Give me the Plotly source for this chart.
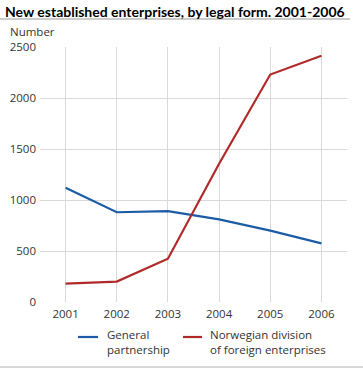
import plotly.graph_objects as go

years = [2001, 2002, 2003, 2004, 2005, 2006]
general_partnership = [1120, 880, 890, 810, 700, 575]
norwegian_division = [180, 200, 425, 1355, 2230, 2415]
y_ticks = [0, 500, 1000, 1500, 2000, 2500]
series_names = ["General<br>partnership", "Norwegian division<br>of foreign enterprises"]
series_colors = ["#1c5ba6", "#b02a2a"]

FONT = "Open Sans"
W, H = 363, 368
ML, MR, MT, MB = 40, 16, 47, 66
PW, PH = W - ML - MR, H - MT - MB


def px_x(px):
    return (px - ML) / PW


def px_y(py):
    return (H - MB - py) / PH


fig = go.Figure()
for vals, name, col in zip([general_partnership, norwegian_division], series_names, series_colors):
    fig.add_trace(go.Scatter(x=years, y=vals, mode="lines", name=name,
                             line=dict(color=col, width=2.2), showlegend=False))

annotations = [
    dict(text="<b>New established enterprises, by legal form. 2001-2006</b>",
         xref="paper", yref="paper", x=px_x(3), y=px_y(1),
         xanchor="left", yanchor="top", showarrow=False,
         font=dict(family="Lato", size=14, color="#000000")),
    dict(text="Number", xref="paper", yref="paper", x=px_x(8), y=px_y(22),
         xanchor="left", yanchor="top", showarrow=False,
         font=dict(size=11.5, color="#333333")),
]
shapes = [
    dict(type="line", xref="paper", yref="paper", x0=px_x(0), x1=px_x(350),
         y0=px_y(19), y1=px_y(19), line=dict(color="#999999", width=1)),
    dict(type="rect", xref="paper", yref="paper", x0=px_x(0), x1=px_x(363),
         y0=px_y(366), y1=px_y(369), fillcolor="#d9d9d9", line=dict(width=0)),
]
# manual legend
leg_pos = [(78, 98, 105), (183, 202, 208)]
for (s0, s1, tx), name, col in zip(leg_pos, series_names, series_colors):
    shapes.append(dict(type="line", xref="paper", yref="paper", x0=px_x(s0), x1=px_x(s1),
                       y0=px_y(337), y1=px_y(337), line=dict(color=col, width=2.2)))
    annotations.append(dict(text=name, xref="paper", yref="paper", x=px_x(tx), y=px_y(325),
                            xanchor="left", yanchor="top", align="left", showarrow=False,
                            font=dict(size=11.5, color="#333333")))

fig.update_layout(
    width=W, height=H,
    margin=dict(l=ML, r=MR, t=MT, b=MB, autoexpand=False),
    paper_bgcolor="white", plot_bgcolor="white",
    font=dict(family=FONT, size=11.5, color="#333333"),
    showlegend=False,
    xaxis=dict(range=[2000.5, 2006.5], tickvals=years, showgrid=True,
               gridcolor="#d9d9d9", gridwidth=1, zeroline=False, showline=False,
               ticks="", tickfont=dict(size=11.5), ticklabelstandoff=3),
    yaxis=dict(range=[0, 2500], tickvals=y_ticks, showgrid=True,
               gridcolor="#d9d9d9", gridwidth=1, zeroline=False, showline=False,
               ticks="", tickfont=dict(size=11.5), ticklabelstandoff=3),
    annotations=annotations,
    shapes=shapes,
)
fig.write_html("out.html", config={"displayModeBar": False},
               post_script="document.body.style.margin='0';")
